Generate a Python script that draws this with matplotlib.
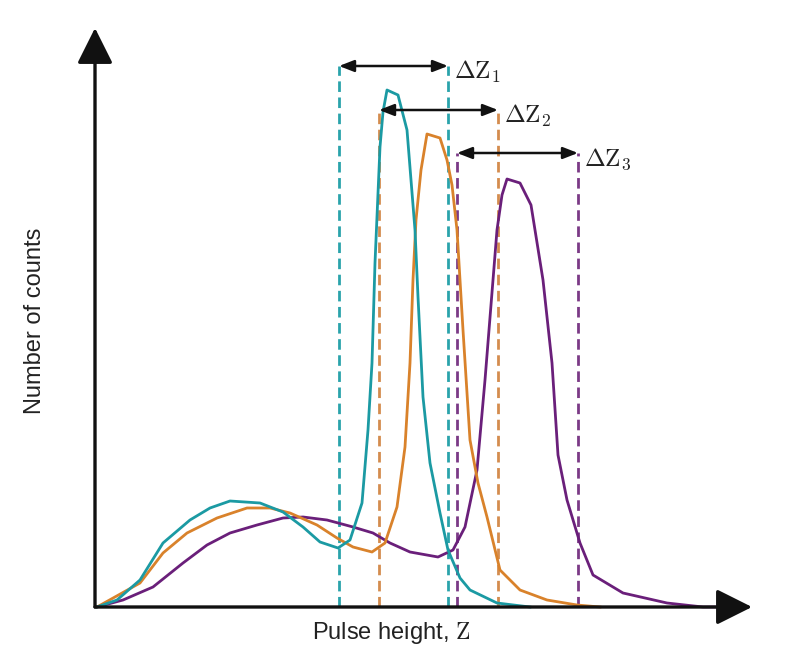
import matplotlib
matplotlib.use("Agg")
import matplotlib.pyplot as plt

plt.rcParams['mathtext.fontset'] = 'cm'
plt.rcParams['font.family'] = ['Liberation Sans', 'DejaVu Sans']

# Data (arbitrary units)
teal_z = [2, 22, 45, 68, 95, 115, 135, 165, 188, 208, 225, 243, 255, 267, 273, 277,
          280, 285, 288, 292, 303, 312, 320, 323, 328, 335, 345, 353, 365, 375, 402, 435]
teal_c = [0, 7, 27, 64, 87, 99, 106, 104, 95, 80, 65, 59, 67, 104, 177, 244,
          344, 460, 495, 517, 512, 477, 377, 310, 210, 144, 94, 57, 29, 17, 4, 0]

orange_z = [2, 45, 68, 92, 122, 152, 175, 195, 222, 242, 258, 277, 290, 302, 310, 315,
            318, 321, 326, 332, 345, 352, 357, 362, 368, 375, 383, 392, 405, 425, 452, 482, 505]
orange_c = [0, 24, 54, 74, 89, 99, 99, 94, 82, 69, 60, 55, 64, 100, 160, 244,
            327, 387, 437, 473, 469, 447, 422, 377, 277, 167, 124, 90, 37, 17, 7, 2, 0]

purple_z = [2, 28, 58, 88, 112, 135, 162, 188, 208, 232, 258, 278, 295, 315, 343, 358,
            370, 382, 390, 398, 402, 407, 412, 425, 436, 448, 457, 463, 472, 485, 498,
            528, 572, 608, 635]
purple_c = [0, 7, 20, 44, 62, 74, 82, 89, 90, 87, 80, 74, 64, 55, 50, 57,
            80, 137, 227, 327, 377, 412, 428, 424, 402, 327, 244, 152, 107, 64, 32,
            14, 4, 0, 0]

# Window edges (left, right) and top of each dashed pair
teal_win = [244, 353]
orange_win = [284, 403]
purple_win = [362, 483]
win_tops = [541, 497, 454]
labels = [r'$\Delta\mathrm{Z}_1$', r'$\Delta\mathrm{Z}_2$', r'$\Delta\mathrm{Z}_3$']

c_teal = '#1b9aa3'
c_orange = '#d9822b'
c_purple = '#6a1f7a'
dash_cols = ['#2aa3ab', '#d48c4e', '#7b3a86']

W, H = 792, 654
fig = plt.figure(figsize=(W / 100, H / 100), dpi=100)
x0, x1 = 95, 752
y0, y1 = 607, 28
ax = fig.add_axes([x0 / W, (H - y0) / H, (x1 - x0) / W, (y0 - y1) / H])
ax.set_xlim(0, x1 - x0)
ax.set_ylim(0, y0 - y1)
ax.axis('off')

# curves
ax.plot(purple_z, purple_c, color=c_purple, lw=2.0, clip_on=False, zorder=3)
ax.plot(orange_z, orange_c, color=c_orange, lw=2.0, clip_on=False, zorder=3)
ax.plot(teal_z, teal_c, color=c_teal, lw=2.0, clip_on=False, zorder=3)

# dashed windows
for win, top, col in zip([teal_win, orange_win, purple_win], win_tops, dash_cols):
    ax.vlines(win, 0, top, colors=col, lw=2.0, linestyles=(0, (3.8, 2)), zorder=2)

# double arrows and labels
for win, top, lab in zip([teal_win, orange_win, purple_win], win_tops, labels):
    ax.annotate('', xy=(win[1], top), xytext=(win[0], top),
                arrowprops=dict(arrowstyle='<|-|>,head_length=9,head_width=3.5',
                                mutation_scale=1, color='#111111', lw=1.8,
                                shrinkA=0, shrinkB=0), zorder=4)
    ax.text(win[1] + 6, top - 6, lab, fontsize=18, color='#222222',
            ha='left', va='center')

# axes with arrow heads
xmax = x1 - x0
ymax = y0 - y1
ax.annotate('', xy=(xmax, 0), xytext=(0, 0), annotation_clip=False,
            arrowprops=dict(arrowstyle='-|>,head_length=22,head_width=11',
                            mutation_scale=1, color='#111111', lw=2.4,
                            shrinkA=0, shrinkB=0), zorder=5)
ax.annotate('', xy=(0, ymax), xytext=(0, 0), annotation_clip=False,
            arrowprops=dict(arrowstyle='-|>,head_length=22,head_width=11',
                            mutation_scale=1, color='#111111', lw=2.4,
                            shrinkA=0, shrinkB=0), zorder=5)

fig.text(391 / W, 1 - 633 / H, r'Pulse height, $\mathrm{Z}$', fontsize=17,
         color='#222222', ha='center', va='center')
fig.text(35 / W, 1 - 321 / H, 'Number of counts', fontsize=17, rotation=90,
         color='#222222', ha='center', va='center')

fig.savefig('out.png', dpi=100)
